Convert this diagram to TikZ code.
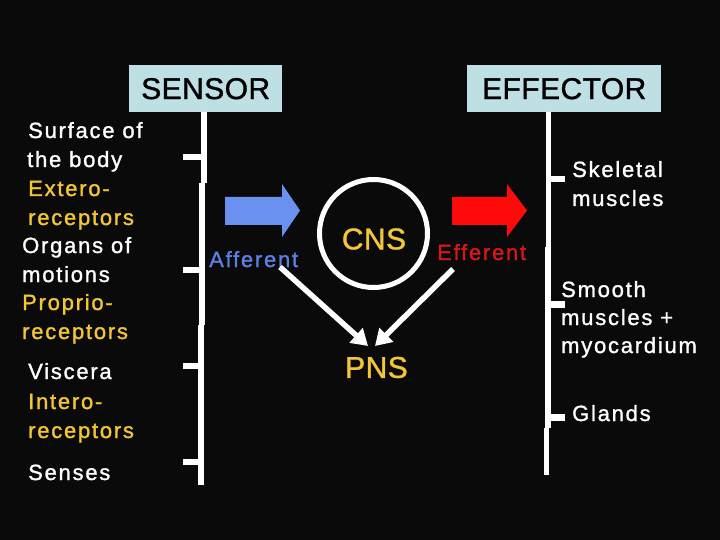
\documentclass[tikz,border=0pt]{standalone}
\usepackage{fontspec}
\setmainfont{Liberation Sans}
\newfontfamily\lblfont[LetterSpace=8, FakeBold=1.3]{Liberation Sans}
\newfontfamily\ttlfont[LetterSpace=1.5, FakeBold=1.2]{Liberation Sans}
\usetikzlibrary{arrows.meta}
\definecolor{bg}{HTML}{0A0A0A}
\definecolor{boxblue}{HTML}{BEE0E4}
\definecolor{txtyellow}{HTML}{F2C634}
\definecolor{arrblue}{HTML}{6A90F0}
\definecolor{txtblue}{HTML}{5B80E4}
\definecolor{arrred}{HTML}{FF0A0A}
\definecolor{txtred}{HTML}{D81818}
\begin{document}
\begin{tikzpicture}[x=1pt,y=-1pt,
  lbl/.style={text=white, font=\lblfont\fontsize{22}{26}\selectfont, anchor=base west, inner sep=0pt},
  ylbl/.style={lbl, text=txtyellow},
  title/.style={fill=boxblue, text=black, font=\ttlfont\fontsize{30}{34}\selectfont, inner sep=0pt, anchor=north west},
  bar/.style={white, line width=5.5pt, line cap=butt},
  tick/.style={white, line width=6.5pt, line cap=butt},
  conn/.style={white, line width=5.5pt, -{Triangle[length=16pt,width=19pt]}},
  big/.style={text=txtyellow, font=\ttlfont\fontsize{30}{34}\selectfont, inner sep=0pt}
]
\fill[bg] (0,0) rectangle (720,540);
\useasboundingbox (0,0) rectangle (720,540);

% title boxes
\node[title, minimum width=153pt, minimum height=47pt] (sensor) at (129,65) {SENSOR};
\node[title, minimum width=194pt, minimum height=47pt] (effector) at (467,65) {EFFECTOR};

% sensor bar
\coordinate (s1) at (204,112);
\draw[bar] (s1) -- (204,183);
\draw[bar] (202,183) -- (202,325);
\draw[bar] (201,325) -- (201,485);
\draw[tick] (183,157) -- (204,157);
\draw[tick] (183,270) -- (204,270);
\draw[tick] (183,366) -- (203,366);
\draw[tick] (183,462) -- (203,462);

% effector bar
\draw[bar] (548.5,112) -- (548.5,247);
\draw[bar] (548,247) -- (548,428);
\draw[bar] (546.5,428) -- (546.5,475);
\draw[tick] (546,179) -- (565,179);
\draw[tick] (546,304.5) -- (565,304.5);
\draw[tick] (545,417.5) -- (565,417.5);

% left labels
\node[lbl] (t1) at (28,138) {Surface of};
\node[lbl] (t2) at (27,167) {the body};
\node[ylbl] (t3) at (28,196) {Extero-};
\node[ylbl] (t4) at (28,225) {receptors};
\node[lbl] (t5) at (22,253) {Organs of};
\node[lbl] (t6) at (22,282) {motions};
\node[ylbl] (t7) at (22,310) {Proprio-};
\node[ylbl] (t8) at (22,339) {receptors};
\node[lbl] (t9) at (28,379) {Viscera};
\node[ylbl] (t10) at (28,409) {Intero-};
\node[ylbl] (t11) at (28,438) {receptors};
\node[lbl] (t12) at (28,480) {Senses};

% right labels
\node[lbl] (r1) at (572,177) {Skeletal};
\node[lbl] (r2) at (572,206) {muscles};
\node[lbl] (r3) at (561,297) {Smooth};
\node[lbl] (r4) at (561,325) {muscles +};
\node[lbl] (r5) at (561,353) {myocardium};
\node[lbl] (r6) at (572,421) {Glands};

% arrows
\fill[arrblue] (225,197) -- (282,197) -- (282,184) -- (300,210.5) -- (282,237) -- (282,225) -- (225,225) -- cycle;
\fill[arrred] (452,197) -- (507,197) -- (507,184) -- (527,210.5) -- (507,237) -- (507,225) -- (452,225) -- cycle;
\node[lbl, text=txtblue] (aff) at (209,267) {Afferent};
\node[lbl, text=txtred] (eff) at (437,260) {Efferent};

% CNS
\node[circle, draw=white, line width=5pt, minimum size=108pt, inner sep=0pt] (cns) at (373.5,233.5) {};
\node[big] (cnslbl) at (374,239) {CNS};
\node[big] (pns) at (376.5,367.5) {PNS};

\coordinate (afs) at (280,267);
\coordinate (efs) at (453,269);
\coordinate (pt1) at (368,346);
\coordinate (pt2) at (375,346);
\draw[conn] (afs) -- (pt1);
\draw[conn] (efs) -- (pt2);
\end{tikzpicture}
\end{document}
